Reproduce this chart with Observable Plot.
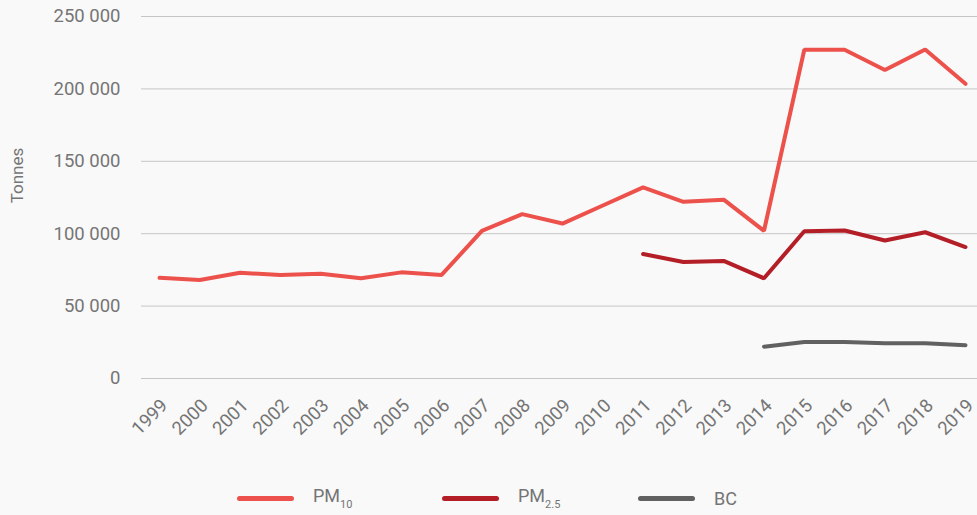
<!DOCTYPE html>
<html>
<head>
<meta charset="utf-8">
<script src="https://cdn.jsdelivr.net/npm/d3@7"></script>
<script src="https://cdn.jsdelivr.net/npm/@observablehq/plot@0.6"></script>
<style>
  html, body { margin: 0; padding: 0; background: #f9f9f9; }
  #wrap { position: relative; width: 977px; height: 515px; font-family: Roboto, sans-serif; color: #757575; }
  #legend { position: absolute; left: 0; top: 485px; width: 977px; height: 26px; font-size: 18px; }
  .item { position: absolute; top: 0; display: flex; align-items: center; height: 26px; }
  .sw { width: 57px; height: 5px; border-radius: 3px; margin-right: 19px; }
  sub { font-size: 11px; vertical-align: -6px; }
</style>
</head>
<body>
<div id="wrap"><div id="chart"></div><div id="legend"></div></div>
<script>
const years = [1999,2000,2001,2002,2003,2004,2005,2006,2007,2008,2009,2010,2011,2012,2013,2014,2015,2016,2017,2018,2019];
const pm10 = [69500,68000,73000,71500,72300,69300,73300,71500,102000,113500,107000,119500,132000,122000,123500,102000,227000,227000,213000,227200,203500];
const pm25 = [null,null,null,null,null,null,null,null,null,null,null,null,86000,80500,81200,69200,101700,102200,95300,101000,90800];
const bc = [null,null,null,null,null,null,null,null,null,null,null,null,null,null,null,22000,25200,25200,24300,24300,23000];
const yTicks = [0,50000,100000,150000,200000,250000];
const seriesNames = ["PM10","PM2.5","BC"];
const seriesLabels = ["PM<sub>10</sub>","PM<sub>2.5</sub>","BC"];
const colors = ["#ec524b","#b41e27","#616161"];

const fmt = d3.formatLocale({thousands: "\u00a0", grouping: [3], decimal: ","}).format(",d");
const rows = (vals) => years.map((y, i) => ({year: y, value: vals[i]}));
const seriesData = [pm10, pm25, bc].map(rows);

const chart = Plot.plot({
  width: 977,
  height: 462,
  marginTop: 16,
  marginBottom: 84,
  marginLeft: 141,
  marginRight: 0,
  style: {background: "#f9f9f9", fontFamily: "Roboto, sans-serif", fontSize: "18px", color: "#757575"},
  x: {domain: [1998.553, 2019.298]},
  y: {domain: [0, 250000]},
  marks: [
    Plot.ruleY(yTicks, {stroke: "#c6c6c6", strokeWidth: 1, strokeOpacity: 1}),
    Plot.axisY(yTicks, {tickSize: 0, tickPadding: 21, tickFormat: fmt, fontSize: 18.5, fill: "#757575", label: null}),
    Plot.text(["Tonnes"], {frameAnchor: "left", textAnchor: "middle", rotate: -90, dx: -124, dy: -22, fontSize: 17, fill: "#757575"}),
    Plot.axisX(years, {tickSize: 0, tickRotate: -45, tickFormat: d => String(d), fontSize: 18.5, fill: "#757575",
      tickPadding: 24, dx: 5, label: null}),
    ...seriesData.map((d, i) => Plot.line(d, {x: "year", y: "value", stroke: colors[i], strokeWidth: 4,
      strokeLinecap: "round", strokeLinejoin: "miter", filter: r => r.value != null}))
  ]
});
document.getElementById("chart").appendChild(chart);

const legendX = [237, 442, 638];
const leg = document.getElementById("legend");
seriesNames.forEach((n, i) => {
  const it = document.createElement("div");
  it.className = "item";
  it.style.left = legendX[i] + "px";
  it.innerHTML = `<div class="sw" style="background:${colors[i]}"></div><span>${seriesLabels[i]}</span>`;
  leg.appendChild(it);
});
</script>
</body>
</html>
